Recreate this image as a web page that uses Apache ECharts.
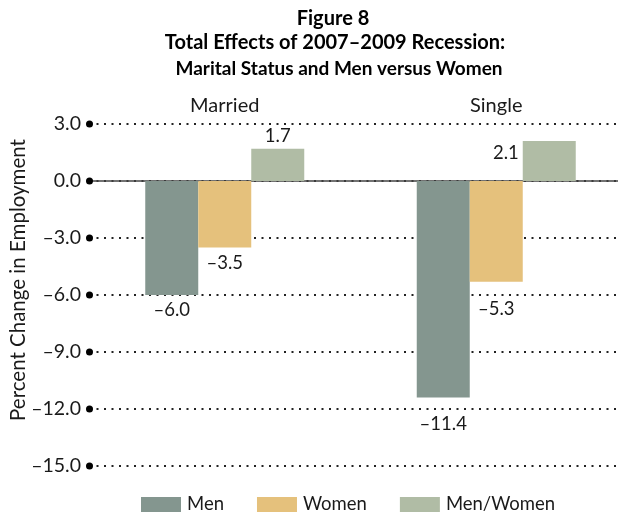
<!DOCTYPE html>
<html><head><meta charset="utf-8">
<script src="https://cdn.jsdelivr.net/npm/echarts@6/dist/echarts.min.js"></script>
<style>html,body{margin:0;padding:0;background:#fff}#c{width:618px;height:512px}</style>
</head><body><div id="c"></div>
<script>
const categories = ['Married', 'Single'];
const seriesNames = ['Men', 'Women', 'Men/Women'];
const men = [-6.0, -11.4];
const women = [-3.5, -5.3];
const menWomen = [1.7, 2.1];
const yTicks = [3, 0, -3, -6, -9, -12, -15];

const FONT = 'Lato';
const TXT = '#1a1a1a';
const colors = ['#84968f', '#e5c17c', '#b0bca5'];
const fmt = v => v.toFixed(1).replace('-', '\u2013');

// per-bar label placement tweaks (styling only)
const labelTweaks = {
  'Men-1': { distance: 17 },
  'Women-1': { distance: 18 },
  'Men/Women-1': { position: [-4, 12], align: 'right', verticalAlign: 'middle' }
};

function buildSeries(name, values, color) {
  return {
    name, type: 'bar', barWidth: 53, barGap: '0%',
    itemStyle: { color },
    label: {
      show: true, fontFamily: FONT, fontSize: 18.5, color: TXT,
      formatter: p => fmt(p.value)
    },
    data: values.map((v, i) => {
      const t = labelTweaks[name + '-' + i];
      const base = v >= 0 ? { position: 'top', distance: 3 } : { position: 'bottom', distance: 6 };
      return { value: v, label: Object.assign(base, t || {}) };
    })
  };
}

const chart = echarts.init(document.getElementById('c'), null, { renderer: 'canvas' });
chart.setOption({
  animation: false,
  backgroundColor: '#fff',
  textStyle: { fontFamily: FONT },
  title: [
    { text: 'Figure 8', left: 328, top: 4, textAlign: 'center',
      textStyle: { fontFamily: FONT, fontWeight: 700, fontSize: 20, color: '#000' } },
    { text: 'Total Effects of 2007\u20132009 Recession:', left: 330, top: 28, textAlign: 'center',
      textStyle: { fontFamily: FONT, fontWeight: 700, fontSize: 20, color: '#000' } },
    { text: 'Marital Status and Men versus Women', left: 334, top: 54, textAlign: 'center',
      textStyle: { fontFamily: FONT, fontWeight: 700, fontSize: 19, color: '#000' } }
  ],
  legend: {
    data: seriesNames, left: 136, top: 490, icon: 'rect',
    itemWidth: 40, itemHeight: 15, itemGap: 33,
    textStyle: { fontFamily: FONT, fontSize: 18.5, color: TXT, padding: [0, 0, 0, 1] }
  },
  grid: { left: 89, top: 124, width: 543, height: 342, containLabel: false, outerBoundsMode: 'none' },
  xAxis: [
    { type: 'category', data: categories, position: 'bottom',
      axisLine: { show: true, onZero: true, lineStyle: { color: '#444', width: 1.5 } },
      axisTick: { show: false }, axisLabel: { show: false }, splitLine: { show: false } },
    { type: 'category', data: categories, position: 'top',
      axisLine: { show: false }, axisTick: { show: false },
      axisLabel: { show: true, margin: 8, fontFamily: FONT, fontSize: 20, color: TXT } }
  ],
  yAxis: {
    type: 'value', min: yTicks[yTicks.length - 1], max: yTicks[0], interval: 3,
    axisLine: { show: false }, axisTick: { show: false },
    axisLabel: {
      margin: -4,
      formatter: v => '{v|' + fmt(v) + '}{s| }{d| }',
      rich: {
        v: { fontFamily: FONT, fontSize: 19.5, color: TXT },
        s: { width: 5 },
        d: { width: 7, height: 7, backgroundColor: '#000', borderRadius: 3.5 }
      }
    },
    splitLine: { show: true, lineStyle: { color: '#222', width: 2, type: [2, 5.5] } }
  },
  graphic: [
    { type: 'text', x: 18, y: 280, rotation: Math.PI / 2,
      style: { text: 'Percent Change in Employment', fontFamily: FONT, fontSize: 20.5, fill: TXT,
        align: 'center', verticalAlign: 'middle' } }
  ],
  series: [
    buildSeries('Men', men, colors[0]),
    buildSeries('Women', women, colors[1]),
    buildSeries('Men/Women', menWomen, colors[2])
  ]
});
</script></body></html>
